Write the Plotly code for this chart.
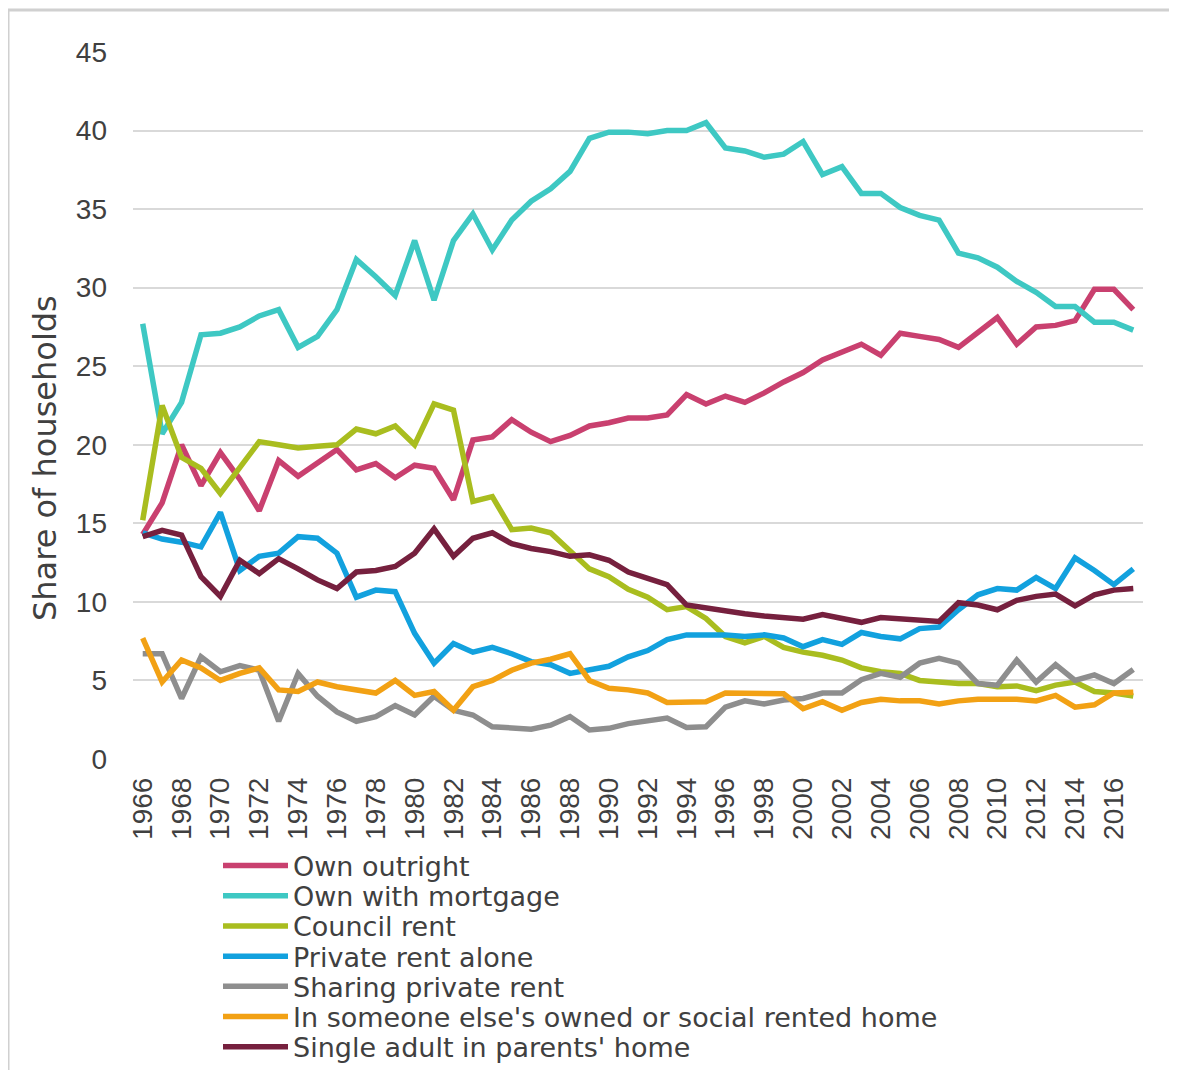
import plotly.graph_objects as go

years = list(range(1966, 2018))

own_outright = [14.3, 16.3, 20.0, 17.4, 19.5, 17.8, 15.8, 19.0, 18.0, 18.8,
                19.7, 18.4, 18.8, 17.9, 18.7, 18.5, 16.5, 20.3, 20.5, 21.6,
                20.8, 20.2, 20.6, 21.2, 21.4, 21.7, 21.7, 21.9, 23.2, 22.6,
                23.1, 22.7, 23.3, 24.0, 24.6, 25.4, 25.9, 26.4, 25.7, 27.1,
                26.9, 26.7, 26.2, 27.1, 28.1, 26.4, 27.5, 27.6, 27.9, 29.9,
                29.9, 28.6]
own_mortgage = [27.7, 20.7, 22.7, 27.0, 27.1, 27.5, 28.2, 28.6, 26.2, 26.9,
                28.6, 31.8, 30.7, 29.5, 33.0, 29.2, 33.0, 34.7, 32.4, 34.3,
                35.5, 36.3, 37.4, 39.5, 39.9, 39.9, 39.8, 40.0, 40.0, 40.5,
                38.9, 38.7, 38.3, 38.5, 39.3, 37.2, 37.7, 36.0, 36.0, 35.1,
                34.6, 34.3, 32.2, 31.9, 31.3, 30.4, 29.7, 28.8, 28.8, 27.8,
                27.8, 27.3]
council_rent = [15.2, 22.5, 19.2, 18.5, 16.9, 18.6, 20.2, 20.0, 19.8, 19.9,
                20.0, 21.0, 20.7, 21.2, 20.0, 22.6, 22.2, 16.4, 16.7, 14.6,
                14.7, 14.4, 13.2, 12.1, 11.6, 10.8, 10.3, 9.5, 9.7, 8.95,
                7.8, 7.4, 7.8, 7.1, 6.8, 6.6, 6.3, 5.8, 5.55, 5.45,
                5.0, 4.9, 4.8, 4.8, 4.6, 4.65, 4.35, 4.7, 4.9, 4.3,
                4.2, 4.0]
private_alone = [14.4, 14.0, 13.8, 13.5, 15.7, 12.0, 12.9, 13.1, 14.15, 14.05,
                 13.1, 10.3, 10.75, 10.65, 8.0, 6.1, 7.35, 6.8, 7.1, 6.7,
                 6.2, 6.0, 5.45, 5.65, 5.9, 6.5, 6.9, 7.6, 7.9, 7.9,
                 7.9, 7.8, 7.9, 7.7, 7.15, 7.6, 7.3, 8.05, 7.8, 7.65,
                 8.3, 8.4, 9.5, 10.45, 10.85, 10.75, 11.55, 10.85, 12.8, 12.0,
                 11.1, 12.1]
sharing_private = [6.7, 6.7, 3.85, 6.5, 5.55, 5.95, 5.65, 2.4, 5.45, 4.0,
                   3.0, 2.4, 2.7, 3.4, 2.8, 4.0, 3.1, 2.8, 2.05, 1.95,
                   1.9, 2.15, 2.7, 1.85, 1.95, 2.25, 2.4, 2.6, 2.0, 2.05,
                   3.3, 3.7, 3.5, 3.75, 3.85, 4.2, 4.2, 5.05, 5.45, 5.2,
                   6.1, 6.4, 6.1, 4.8, 4.7, 6.3, 4.9, 6.0, 5.0, 5.35,
                   4.8, 5.7]
someone_else = [7.7, 4.9, 6.3, 5.8, 5.0, 5.45, 5.8, 4.4, 4.3, 4.9,
                4.6, 4.4, 4.2, 5.0, 4.05, 4.3, 3.1, 4.6, 5.0, 5.65,
                6.1, 6.35, 6.7, 5.0, 4.5, 4.4, 4.2, 3.6, 3.65, 3.65,
                4.2, 4.2, 4.2, 4.15, 3.2, 3.65, 3.1, 3.6, 3.8, 3.7,
                3.7, 3.5, 3.7, 3.8, 3.8, 3.8, 3.7, 4.05, 3.3, 3.45,
                4.2, 4.25]
parents_home = [14.15, 14.55, 14.25, 11.6, 10.35, 12.65, 11.8, 12.75, 12.1, 11.4,
                10.85, 11.9, 12.0, 12.25, 13.1, 14.65, 12.9, 14.05, 14.4, 13.7,
                13.4, 13.2, 12.9, 13.0, 12.65, 11.9, 11.5, 11.1, 9.8, 9.6,
                9.4, 9.25, 9.1, 9.0, 8.9, 9.2, 8.95, 8.7, 9.0, 8.9,
                8.8, 8.75, 9.95, 9.8, 9.5, 10.1, 10.35, 10.5, 9.75, 10.45,
                10.75, 10.85]

series = [
    ("Own outright", own_outright, "#C9406F"),
    ("Own with mortgage", own_mortgage, "#3EC8C3"),
    ("Council rent", council_rent, "#A9BD1F"),
    ("Private rent alone", private_alone, "#12A1DE"),
    ("Sharing private rent", sharing_private, "#8E8E8E"),
    ("In someone else's owned or social rented home", someone_else, "#F2A114"),
    ("Single adult in parents' home", parents_home, "#76203E"),
]

tick_years = list(range(1966, 2017, 2))
text_font = "DejaVu Sans"
num_font = "Liberation Sans"

# the page puts the figure 8px in from the top-left corner; a little extra
# height at the bottom keeps the last legend row from pushing the margins
W, H = 1177, 1085
ML, MT, MR = 125, 44, 42
x_axis_px = 751
MB = H - x_axis_px
plot_w = W - ML - MR
plot_h = H - MT - MB


def px_x(px):
    return (px - ML) / plot_w


def px_y(py):
    return (x_axis_px - py) / plot_h


fig = go.Figure()
legends = {}
for i, (name, vals, color) in enumerate(series):
    key = "legend" if i == 0 else "legend%d" % (i + 1)
    fig.add_trace(go.Scatter(
        x=years, y=vals, name=name, mode="lines",
        line=dict(color=color, width=5.5),
        legend=key,
    ))
    # one legend per row so the row pitch can be kept tight
    legends[key] = dict(
        x=px_x(210), xanchor="left",
        y=px_y(858 + i * 30.2), yanchor="middle",
        font=dict(family=text_font, size=27, color="#404040"),
        itemwidth=65, bgcolor="rgba(0,0,0,0)", borderwidth=0,
    )

fig.update_layout(
    width=W, height=H,
    paper_bgcolor="white", plot_bgcolor="white",
    margin=dict(l=ML, r=MR, t=MT, b=MB),
    font=dict(family=text_font, color="#333333", size=26),
    showlegend=True,
    xaxis=dict(
        range=[1965.5, 2017.5], tickvals=tick_years, tickangle=-90,
        showgrid=False, zeroline=False, showline=False, automargin=False,
        tickfont=dict(family=num_font, size=28, color="#404040"),
        ticklabelstandoff=12,
    ),
    yaxis=dict(
        range=[0, 45], dtick=5, showgrid=True, gridcolor="#D9D9D9", gridwidth=2,
        zeroline=False, showline=False, automargin=False,
        tickfont=dict(family=num_font, size=28, color="#404040"),
        ticklabelstandoff=25,
    ),
    annotations=[dict(text="Share of households", textangle=-90,
                      xref="paper", yref="paper",
                      x=px_x(37), y=px_y(450),
                      showarrow=False, xanchor="center", yanchor="middle",
                      font=dict(family=text_font, size=32, color="#404040"))],
    shapes=[dict(type="rect", xref="paper", yref="paper",
                 x0=px_x(0), x1=px_x(1167),
                 y0=px_y(1200), y1=px_y(2),
                 line=dict(color="#D0D0D0", width=3), layer="below")],
)
fig.update_layout(**legends)

fig.write_html("out.html")
